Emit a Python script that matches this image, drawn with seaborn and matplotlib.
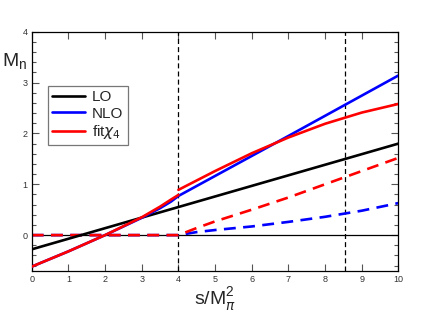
import numpy as np
import pandas as pd
import matplotlib
matplotlib.use("Agg")
import matplotlib.pyplot as plt
import seaborn as sns

# values
lo_s = [0, 10]
lo_m = [-0.28, 1.80]

fit_lo_s = [0, 1, 2, 3, 3.5, 3.8, 4.0]
fit_lo_m = [-0.62, -0.32, 0.0, 0.35, 0.56, 0.70, 0.79]
fit_hi_s = [4.0, 5, 6, 7, 8, 9, 10]
fit_hi_m = [0.89, 1.26, 1.61, 1.92, 2.19, 2.41, 2.58]

nlo_s = [0, 1, 2, 3, 3.5, 3.8, 4.0, 7, 10]
nlo_m = [-0.62, -0.32, 0.0, 0.34, 0.53, 0.66, 0.77, 1.95, 3.14]

im_nlo_s = [0, 4.0, 4.5, 5, 6, 7, 8, 9, 10]
im_nlo_m = [0, 0, 0.06, 0.10, 0.17, 0.26, 0.36, 0.48, 0.63]
im_fit_s = [0, 4.0, 4.5, 5, 6, 7, 8, 9, 10]
im_fit_m = [0, 0, 0.14, 0.27, 0.50, 0.74, 1.00, 1.26, 1.52]

thresholds = [4.0, 8.55]

sns.set_style("ticks")
plt.rcParams["font.family"] = ["Liberation Sans", "DejaVu Sans"]

fig = plt.figure(figsize=(4.25, 3.19), dpi=100)
ax = fig.add_axes([0.0746, 0.1514, 0.863, 0.7492])

lw = 1.9
dash = (4.5, 2.8)

# zero line and thresholds
ax.axhline(0, color="black", lw=0.9, zorder=1)
for t in thresholds:
    ax.axvline(t, color="black", lw=0.9, ls=(0, (4, 2.5)), zorder=1)

# imaginary parts (dashed)
sns.lineplot(x=im_nlo_s, y=im_nlo_m, ax=ax, color="#0000ff", lw=lw,
             estimator=None, sort=False, zorder=2).lines[-1].set_dashes(dash)
sns.lineplot(x=im_fit_s, y=im_fit_m, ax=ax, color="#ff0000", lw=lw,
             estimator=None, sort=False, zorder=2).lines[-1].set_dashes(dash)

# real parts
sns.lineplot(x=lo_s, y=lo_m, ax=ax, color="black", lw=lw, estimator=None, sort=False,
             label="LO", zorder=3)
sns.lineplot(x=nlo_s, y=nlo_m, ax=ax, color="#0000ff", lw=lw, estimator=None, sort=False,
             label="NLO", zorder=3)
sns.lineplot(x=fit_lo_s, y=fit_lo_m, ax=ax, color="#ff0000", lw=lw, estimator=None,
             sort=False, label="fit$\\chi_4$", zorder=4)
sns.lineplot(x=fit_hi_s, y=fit_hi_m, ax=ax, color="#ff0000", lw=lw, estimator=None,
             sort=False, zorder=4)

ax.set_xlim(0, 10)
ax.set_ylim(-0.7, 4)
ax.set_xticks(range(0, 11))
ax.set_yticks(range(0, 5))
ax.yaxis.set_minor_locator(matplotlib.ticker.MultipleLocator(0.2))
ax.tick_params(which="both", direction="in", top=True, right=True, colors="#555555",
               labelsize=6.5, labelcolor="#333333", width=0.8, pad=3)
ax.tick_params(which="major", length=5)
ax.tick_params(which="minor", length=3)
for sp in ax.spines.values():
    sp.set_linewidth(0.9)
    sp.set_color("black")
ax.set_xlabel("")
ax.set_ylabel("")

leg = ax.legend(loc="upper left", bbox_to_anchor=(0.044, 0.774), borderaxespad=0,
                fontsize=11, handlelength=2.1, handletextpad=0.5, borderpad=0.3,
                labelspacing=0.15, fancybox=False, framealpha=1, edgecolor="#777777")
leg.get_frame().set_linewidth(0.9)

fig.text(0.005, 0.805, "M$_\\mathregular{n}$", fontsize=14, ha="left", va="center")
fig.text(0.505, 0.06, "s/M$_\\pi^\\mathregular{2}$", fontsize=14, ha="center", va="center")

fig.savefig("out.png", dpi=100)
